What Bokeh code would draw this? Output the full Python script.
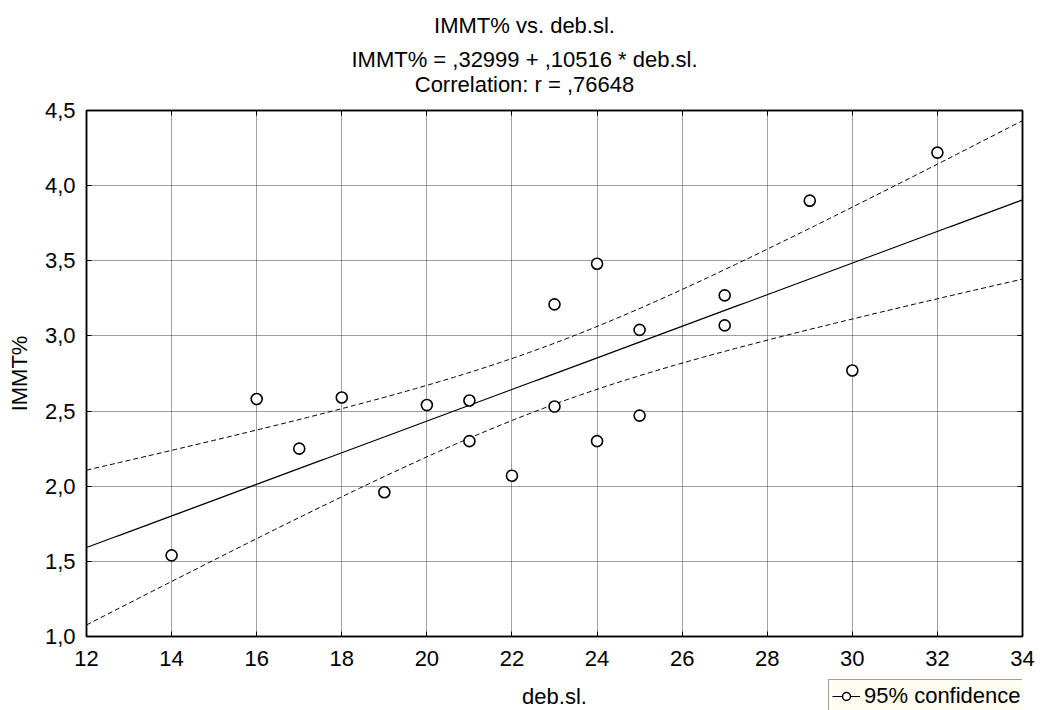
import numpy as np
from bokeh.plotting import figure
from bokeh.layouts import column
from bokeh.models import (Range1d, LinearAxis, FixedTicker, CustomJSTickFormatter,
                          Label, Legend, LegendItem)
from bokeh.embed import file_html
from bokeh.resources import INLINE

# ---- data ----
deb_sl = [14, 16, 17, 18, 19, 20, 21, 21, 22, 23, 23, 24, 24, 25, 25, 27, 27, 29, 30, 32]
immt = [1.54, 2.58, 2.25, 2.59, 1.96, 2.54, 2.57, 2.30, 2.07, 3.21, 2.53, 3.48, 2.30,
        3.04, 2.47, 3.27, 3.07, 3.90, 2.77, 4.22]
x_ticks = [12, 14, 16, 18, 20, 22, 24, 26, 28, 30, 32, 34]
y_ticks = [1.0, 1.5, 2.0, 2.5, 3.0, 3.5, 4.0, 4.5]
title_lines = ["IMMT% vs. deb.sl.",
               "IMMT% = ,32999 + ,10516 * deb.sl.",
               "Correlation: r = ,76648"]
x_label = "deb.sl."
y_label = "IMMT%"
legend_label = "95% confidence"
INTERCEPT = 0.32999
SLOPE = 0.10516
T_CRIT = 2.1009  # t(0.975, df=18)

FONT = "Liberation Sans"
FS = "22px"
W, H = 1040, 710
BL, BR = 86, 18          # left / right borders shared by all stacked figures
HEAD_H, MAIN_TOP, FRAME_H, MAIN_BOT = 96, 14, 526, 40
MAIN_H = MAIN_TOP + FRAME_H + MAIN_BOT
FOOT_H = H - HEAD_H - MAIN_H

# ---- regression line and 95% confidence band for the mean ----
xa = np.array(deb_sl, dtype=float)
ya = np.array(immt, dtype=float)
n = len(xa)
resid = ya - (INTERCEPT + SLOPE * xa)
s = np.sqrt(np.sum(resid ** 2) / (n - 2))
sxx = np.sum((xa - xa.mean()) ** 2)
xs = np.linspace(x_ticks[0], x_ticks[-1], 200)
fit = INTERCEPT + SLOPE * xs
half = T_CRIT * s * np.sqrt(1.0 / n + (xs - xa.mean()) ** 2 / sxx)


def blank_fig(h, y0):
    # pixel-like coordinates: x = picture x, y = picture y (top-down)
    f = figure(width=W, height=h, output_backend="svg", toolbar_location=None,
               x_range=Range1d(BL, W - BR), y_range=Range1d(y0 + h, y0),
               x_axis_type=None, y_axis_type=None,
               min_border_left=BL, min_border_right=BR, min_border_top=0, min_border_bottom=0)
    f.outline_line_color = None
    f.background_fill_color = "white"
    f.border_fill_color = "white"
    return f


# ---- header with the three title lines ----
head = blank_fig(HEAD_H, 0)
for t, yc in zip(title_lines, [25, 59, 84]):
    head.add_layout(Label(x=524, y=yc, text=t, text_font=FONT, text_font_size=FS,
                          text_color="black", text_align="center", text_baseline="middle"))

# ---- main plot ----
p = figure(width=W, height=MAIN_H, output_backend="svg", toolbar_location=None,
           x_range=Range1d(x_ticks[0], x_ticks[-1]), y_range=Range1d(y_ticks[0], y_ticks[-1]),
           min_border_left=BL, min_border_right=BR, min_border_top=MAIN_TOP,
           min_border_bottom=MAIN_BOT)
p.background_fill_color = "white"
p.border_fill_color = "white"
p.outline_line_color = "black"
p.outline_line_width = 1.5

p.xgrid.ticker = FixedTicker(ticks=x_ticks)
p.ygrid.ticker = FixedTicker(ticks=y_ticks)
for g in (p.xgrid, p.ygrid):
    g.grid_line_color = "#404040"
    g.grid_line_dash = "1 1"
    g.grid_line_width = 1

fmt_y = CustomJSTickFormatter(code="return tick.toFixed(1).replace('.', ',');")
fmt_x = CustomJSTickFormatter(code="return tick.toFixed(0);")

for ax, tk, fm in ((p.xaxis[0], x_ticks, fmt_x), (p.yaxis[0], y_ticks, fmt_y)):
    ax.ticker = FixedTicker(ticks=tk)
    ax.formatter = fm
    ax.major_tick_in = 5
    ax.major_tick_out = 0
    ax.minor_tick_line_color = None
    ax.axis_line_color = "black"
    ax.axis_line_width = 1.5
    ax.major_tick_line_color = "black"
    ax.major_label_text_font = FONT
    ax.major_label_text_font_size = FS
    ax.major_label_text_color = "black"
    ax.axis_label_text_font = FONT
    ax.axis_label_text_font_size = FS
    ax.axis_label_text_font_style = "normal"
    ax.axis_label_text_color = "black"

p.xaxis[0].major_label_standoff = 14
p.yaxis[0].axis_label = y_label
p.yaxis[0].major_label_standoff = 11
p.yaxis[0].axis_label_standoff = 10

# inward tick marks on the top and right borders
empty_fmt = CustomJSTickFormatter(code="return '';")
for side in ("above", "right"):
    a = LinearAxis(ticker=FixedTicker(ticks=x_ticks if side == "above" else y_ticks),
                   formatter=empty_fmt, major_tick_in=5, major_tick_out=0,
                   minor_tick_line_color=None, major_label_standoff=0,
                   axis_line_color="black", axis_line_width=1.5)
    p.add_layout(a, side)

r_up = p.line(xs, fit + half, line_color="black", line_width=1, line_dash="5 3")
r_lo = p.line(xs, fit - half, line_color="black", line_width=1, line_dash="5 3")
r_fit = p.line(xs, fit, line_color="black", line_width=1.2)
r_pts = p.scatter(deb_sl, immt, marker="circle", size=11, fill_color="white",
                  line_color="black", line_width=1.6)

# ---- footer: x-axis title and legend ----
y0_foot = HEAD_H + MAIN_H
foot = blank_fig(FOOT_H, y0_foot)
foot.add_layout(Label(x=(BL + W - BR) / 2, y=696, text=x_label, text_font=FONT,
                      text_font_size=FS, text_color="black",
                      text_align="center", text_baseline="middle"))
# legend proxies (kept outside the footer's visible range)
g_line = foot.line([0, 1], [0, 1], line_color="black", line_width=1)
g_pt = foot.scatter([0], [0], marker="circle", size=10, fill_color="white",
                    line_color="black", line_width=1.5)
legend = Legend(items=[LegendItem(label=legend_label, renderers=[g_line, g_pt])],
                location=(742, -3), orientation="vertical",
                background_fill_color="#fffcf2", background_fill_alpha=1.0,
                border_line_color="#404040", border_line_width=1,
                label_text_font=FONT, label_text_font_size=FS, label_text_color="black",
                glyph_width=28, glyph_height=20, label_height=22, padding=3, margin=0,
                spacing=0, label_standoff=4)
foot.add_layout(legend, "center")

layout = column(head, p, foot, spacing=0)
open("out.html", "w").write(file_html(layout, INLINE))
